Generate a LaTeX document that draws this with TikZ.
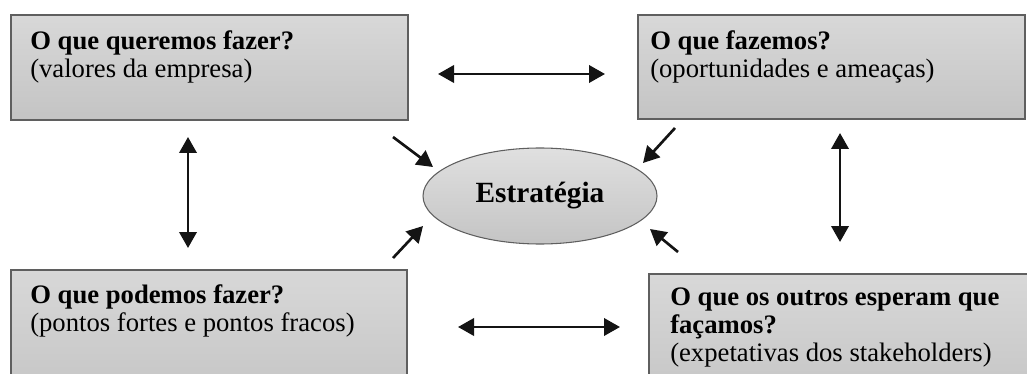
\documentclass[tikz,border=0pt]{standalone}
\usepackage{fontspec}
\setmainfont{Liberation Serif}
\usetikzlibrary{arrows.meta, shapes.geometric}

\definecolor{boxline}{RGB}{95,95,95}
\definecolor{boxtop}{RGB}{216,216,216}
\definecolor{boxbot}{RGB}{196,196,196}
\definecolor{arrowcol}{RGB}{20,20,20}

\tikzset{
  qbox/.style={draw=boxline, line width=1.3pt, top color=boxtop, bottom color=boxbot,
    anchor=north west, inner sep=0pt},
  qtext/.style={anchor=north west, align=left, inner sep=0pt,
    font=\fontsize{20}{21}\selectfont},
  twoway/.style={{Triangle[length=12pt,width=13pt]}-{Triangle[length=12pt,width=13pt]},
    line width=2pt, draw=arrowcol},
  oneway/.style={-{Triangle[length=12pt,width=13pt]}, line width=2pt, draw=arrowcol}
}

\begin{document}
\begin{tikzpicture}[x=0.75pt,y=0.75pt,yscale=-1,xscale=1]
\useasboundingbox (0,0) rectangle (1027,374);
\clip (0,0) rectangle (1027,374);

% boxes
\node[qbox, minimum width=297.75pt, minimum height=78.75pt] (tl) at (10,14) {};
\node[qbox, minimum width=290.25pt, minimum height=78pt] (tr) at (637,14) {};
\node[qbox, minimum width=297pt, minimum height=100pt] (bl) at (10,269) {};
\node[qbox, minimum width=300pt, minimum height=100pt] (br) at (648,273) {};

% texts
\node[qtext] (tltext) at (30,30) {\textbf{O que queremos fazer?}\\(valores da empresa)};
\node[qtext] (trtext) at (650,30) {\textbf{O que fazemos?}\\(oportunidades e ameaças)};
\node[qtext] (bltext) at (30,284) {\textbf{O que podemos fazer?}\\(pontos fortes e pontos fracos)};
\node[qtext] (brtext) at (670,288) {\textbf{O que os outros esperam que}\\\textbf{façamos?}\\(expetativas dos stakeholders)};

% center
\node[ellipse, draw=boxline, line width=0.8pt, top color=boxtop!80!white, bottom color=boxbot,
  minimum width=175.5pt, minimum height=72pt, inner sep=0pt,
  font=\fontsize{22}{22}\selectfont\bfseries] (estr) at (540,196) {Estratégia};

% arrow ends
\coordinate (tmA) at (438,74);
\coordinate (tmB) at (605,74);
\coordinate (bmA) at (458,327);
\coordinate (bmB) at (620,327);
\coordinate (lvA) at (188,137);
\coordinate (lvB) at (188,248);
\coordinate (rvA) at (840,133);
\coordinate (rvB) at (840,242);
\coordinate (dTLa) at (393,137);
\coordinate (dTLb) at (433,167);
\coordinate (dTRa) at (675,128);
\coordinate (dTRb) at (643,163);
\coordinate (dBLa) at (393,258);
\coordinate (dBLb) at (423,226);
\coordinate (dBRa) at (678,252);
\coordinate (dBRb) at (650,229);

% arrows
\draw[twoway] (tmA) -- (tmB);
\draw[twoway] (bmA) -- (bmB);
\draw[twoway] (lvA) -- (lvB);
\draw[twoway] (rvA) -- (rvB);
\draw[oneway] (dTLa) -- (dTLb);
\draw[oneway] (dTRa) -- (dTRb);
\draw[oneway] (dBLa) -- (dBLb);
\draw[oneway] (dBRa) -- (dBRb);

\end{tikzpicture}
\end{document}
